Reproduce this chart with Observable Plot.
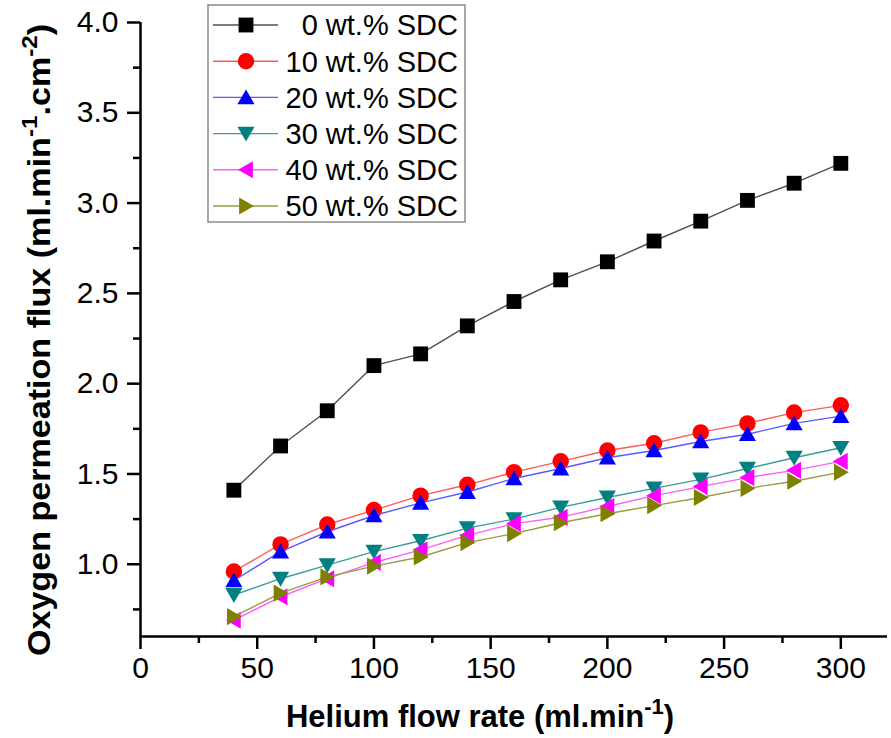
<!DOCTYPE html>
<html><head><meta charset="utf-8">
<script src="https://cdn.jsdelivr.net/npm/d3@7"></script>
<script src="https://cdn.jsdelivr.net/npm/@observablehq/plot@0.6"></script>
<style>body{margin:0;background:#fff} svg{display:block}</style>
</head><body><div id="chart"></div>
<script>
// ---- data ----
const flowRate = [40, 60, 80, 100, 120, 140, 160, 180, 200, 220, 240, 260, 280, 300];
const sdc0  = [1.41, 1.655, 1.85, 2.10, 2.165, 2.32, 2.455, 2.575, 2.675, 2.79, 2.90, 3.015, 3.11, 3.22];
const sdc10 = [0.96, 1.11, 1.22, 1.30, 1.38, 1.44, 1.51, 1.57, 1.63, 1.67, 1.73, 1.78, 1.84, 1.88];
const sdc20 = [0.91, 1.07, 1.18, 1.27, 1.34, 1.40, 1.475, 1.53, 1.59, 1.63, 1.68, 1.72, 1.78, 1.82];
const sdc30 = [0.83, 0.92, 0.995, 1.07, 1.13, 1.20, 1.25, 1.315, 1.37, 1.42, 1.47, 1.53, 1.59, 1.645];
const sdc40 = [0.69, 0.82, 0.92, 1.01, 1.08, 1.16, 1.225, 1.26, 1.32, 1.38, 1.43, 1.48, 1.52, 1.57];
const sdc50 = [0.71, 0.84, 0.93, 0.99, 1.04, 1.12, 1.17, 1.23, 1.28, 1.325, 1.37, 1.42, 1.46, 1.51];
const seriesNames = ["0 wt.% SDC", "10 wt.% SDC", "20 wt.% SDC", "30 wt.% SDC", "40 wt.% SDC", "50 wt.% SDC"];
const markerColors = ["#000000", "#ff0000", "#0000ff", "#008080", "#ff00ff", "#808000"];
const lineColors = ["#505050", "#ff5a5a", "#5a5aff", "#3c9c9c", "#ff5cff", "#9a9a40"];
const yTicks = [1.0, 1.5, 2.0, 2.5, 3.0, 3.5, 4.0];
const yMinor = [0.75, 1.25, 1.75, 2.25, 2.75, 3.25, 3.75];
const xTicks = [0, 50, 100, 150, 200, 250, 300];
const xMinor = [25, 75, 125, 175, 225, 275];

// ---- symbols ----
function poly(pts) {
  return {draw(ctx, size) {
    const k = Math.sqrt(size / Math.PI) / 7;
    ctx.moveTo(pts[0][0] * k, pts[0][1] * k);
    for (let i = 1; i < pts.length; i++) ctx.lineTo(pts[i][0] * k, pts[i][1] * k);
    ctx.closePath();
  }};
}
const symCircle = {draw(ctx, size) { const r = Math.sqrt(size / Math.PI) * 7.2 / 7; ctx.moveTo(r, 0); ctx.arc(0, 0, r, 0, 2 * Math.PI); }};
const symbols = [
  poly([[-6.5, -6.5], [6.5, -6.5], [6.5, 6.5], [-6.5, 6.5]]),
  symCircle,
  poly([[0, -7], [7.5, 6], [-7.5, 6]]),
  poly([[0, 7], [7.5, -6], [-7.5, -6]]),
  poly([[-7, 0], [6, -7.5], [6, 7.5]]),
  poly([[7, 0], [-6, -7.5], [-6, 7.5]])
];

const values = [sdc0, sdc10, sdc20, sdc30, sdc40, sdc50];
const rows = seriesNames.flatMap((name, i) => flowRate.map((x, j) => ({series: name, idx: i, x, y: values[i][j]})));

const seriesMarks = seriesNames.flatMap((name, i) => [
  Plot.line(rows, {filter: d => d.idx === i, x: "x", y: "y", stroke: lineColors[i], strokeWidth: 1.4}),
  Plot.dot(rows, {filter: d => d.idx === i, x: "x", y: "y", r: 8, symbol: symbols[i], fill: markerColors[i], stroke: "none"})
]);

const FONT = "'Liberation Sans', Arial, Helvetica, sans-serif";
const chart = Plot.plot({
  width: 891, height: 738,
  marginLeft: 140, marginRight: 4, marginTop: 22, marginBottom: 102,
  x: {domain: [0, 320]},
  y: {domain: [0.6, 4.0]},
  style: {fontFamily: FONT, background: "white", color: "black"},
  marks: [
    Plot.axisY(yMinor, {tickSize: 7, tickFormat: () => "", strokeWidth: 2.5, label: null}),
    Plot.axisY(yTicks, {tickSize: 13, tickPadding: 9, tickFormat: d3.format(".1f"), fontSize: 30, strokeWidth: 2.5, label: null}),
    Plot.axisX(xMinor, {tickSize: 7, tickFormat: () => "", strokeWidth: 2.5, label: null}),
    Plot.axisX(xTicks, {tickSize: 13, tickPadding: 7, fontSize: 30, strokeWidth: 2.5, label: null}),
    Plot.ruleX([0], {strokeWidth: 2.5}),
    Plot.ruleY([0.6], {strokeWidth: 2.5}),
    ...seriesMarks
  ]
});
document.getElementById("chart").appendChild(chart);

// ---- axis titles and legend ----
const svg = d3.select(chart);
const xt = svg.append("text").attr("transform", "translate(480,727)").attr("text-anchor", "middle")
  .style("font", `bold 31px ${FONT}`).attr("fill", "black");
xt.append("tspan").text("Helium flow rate (ml.min");
xt.append("tspan").attr("dy", -13).style("font-size", "22px").text("-1");
xt.append("tspan").attr("dy", 13).text(")");

const yt = svg.append("text").attr("transform", "translate(50,340) rotate(-90) scale(1.1,1)").attr("text-anchor", "middle")
  .style("font", `bold 31px ${FONT}`).attr("fill", "black");
yt.append("tspan").text("Oxygen permeation flux (ml.min");
yt.append("tspan").attr("dy", -13).style("font-size", "22px").text("-1");
yt.append("tspan").attr("dy", 13).text(".cm");
yt.append("tspan").attr("dy", -13).style("font-size", "22px").text("-2");
yt.append("tspan").attr("dy", 13).text(")");

const lg = svg.append("g");
lg.append("rect").attr("x", 208).attr("y", 5).attr("width", 257).attr("height", 217)
  .attr("fill", "white").attr("stroke", "#8a8a8a").attr("stroke-width", 1.5);
seriesNames.forEach((name, i) => {
  const cy = 25 + i * 36.2;
  lg.append("line").attr("x1", 213).attr("x2", 278).attr("y1", cy).attr("y2", cy)
    .attr("stroke", lineColors[i]).attr("stroke-width", 1.4);
  lg.append("path").attr("transform", `translate(246,${cy})`)
    .attr("d", d3.symbol().type(symbols[i]).size(Math.PI * 64)()).attr("fill", markerColors[i]);
  lg.append("text").attr("x", 458).attr("y", cy).attr("dy", "0.36em").attr("text-anchor", "end")
    .style("font", `29px ${FONT}`).attr("fill", "black").text(name);
});
</script>
</body></html>
